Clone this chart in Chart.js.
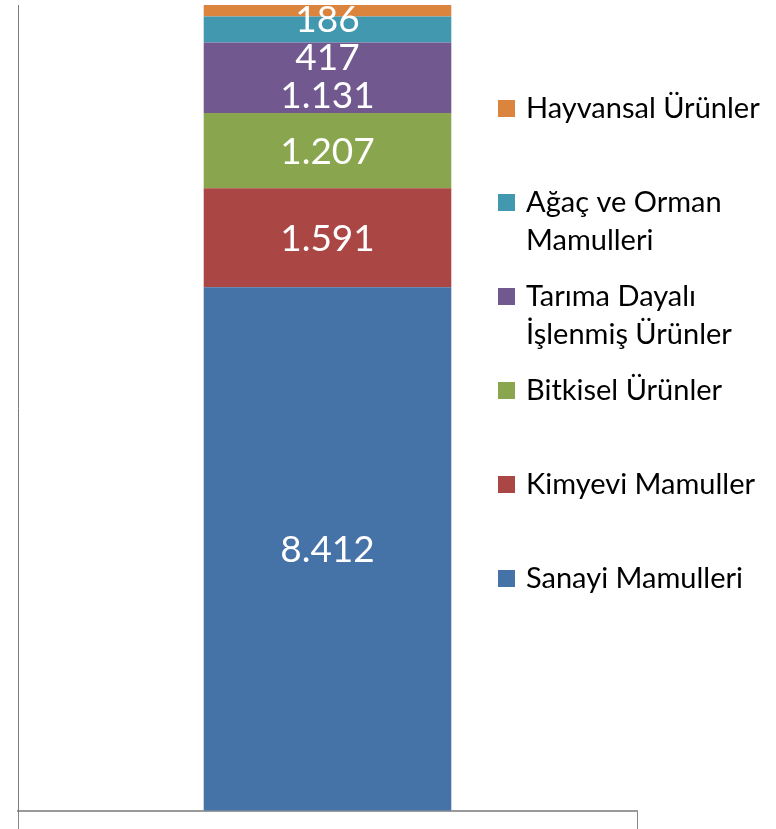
<!DOCTYPE html>
<html lang="tr">
<head>
<meta charset="utf-8">
<title>Ürün grupları</title>
<script src="https://cdn.jsdelivr.net/npm/chart.js@4/dist/chart.umd.min.js"></script>
<style>
    html, body { margin: 0; padding: 0; background: #fff; }
    #chart { display: block; }
</style>
</head>
<body>
<canvas id="chart" width="776" height="829"></canvas>
<script>
// data, bottom of the stack first
const categories = [''];
const seriesNames = ['Sanayi Mamulleri', 'Kimyevi Mamuller', 'Bitkisel Ürünler', 'Tarıma Dayalı İşlenmiş Ürünler', 'Ağaç ve Orman Mamulleri', 'Hayvansal Ürünler'];
const seriesValues = [8412, 1591, 1207, 1131, 417, 186];
const seriesColors = ['#4572A7', '#AA4643', '#89A54E', '#71588F', '#4198AF', '#DB843D'];

const total = seriesValues.reduce((a, b) => a + b, 0);

// 8412 -> "8.412"
function formatTr(n) {
    return String(n).replace(/\B(?=(\d{3})+(?!\d))/g, '.');
}

// white value labels in the middle of each segment, pushed down when they would collide
const segmentLabels = {
    id: 'segmentLabels',
    afterDatasetsDraw(chart) {
        const ctx = chart.ctx;
        const size = 37;
        const gap = 38;
        ctx.save();
        ctx.font = size + 'px Lato, "Open Sans", sans-serif';
        ctx.fillStyle = '#ffffff';
        ctx.textAlign = 'center';
        ctx.textBaseline = 'alphabetic';
        let prev = chart.chartArea.top + 14 - gap;
        for (let i = chart.data.datasets.length - 1; i >= 0; i--) {
            const bar = chart.getDatasetMeta(i).data[0];
            let y = (bar.y + bar.base) / 2;
            y = Math.max(y, prev + gap);
            prev = y;
            ctx.fillText(formatTr(chart.data.datasets[i].data[0]), bar.x, y + size * 0.36);
        }
        ctx.restore();
    }
};

// legend on the right, top item first, long names wrapped
const sideLegend = {
    id: 'sideLegend',
    afterDraw(chart) {
        const ctx = chart.ctx;
        const size = 29;
        const boxX = 498, textX = 526, firstY = 108, step = 94, lineH = 38, maxW = 248;
        ctx.save();
        ctx.font = size + 'px Lato, "Open Sans", sans-serif';
        ctx.textBaseline = 'alphabetic';
        ctx.textAlign = 'left';
        const sets = chart.data.datasets;
        for (let k = 0; k < sets.length; k++) {
            const ds = sets[sets.length - 1 - k];
            const cy = firstY + k * step;
            ctx.fillStyle = ds.backgroundColor;
            ctx.fillRect(boxX, cy - 8, 17, 17);

            // word wrap
            const words = ds.label.split(' ');
            const lines = [];
            let line = '';
            words.forEach(w => {
                const test = line ? line + ' ' + w : w;
                if (line && ctx.measureText(test).width > maxW) {
                    lines.push(line);
                    line = w;
                } else {
                    line = test;
                }
            });
            lines.push(line);

            ctx.fillStyle = '#000000';
            lines.forEach((l, j) => ctx.fillText(l, textX, cy + 10 + j * lineH));
        }
        ctx.restore();
    }
};

const ctx = document.getElementById('chart').getContext('2d');
new Chart(ctx, {
    type: 'bar',
    data: {
        labels: categories,
        datasets: seriesNames.map((name, i) => ({
            label: name,
            data: [seriesValues[i]],
            backgroundColor: seriesColors[i],
            borderWidth: 0,
            barPercentage: 0.4,
            categoryPercentage: 1
        }))
    },
    options: {
        responsive: false,
        animation: false,
        layout: { padding: { left: 18, top: 5, right: 139, bottom: 0 } },
        plugins: {
            legend: { display: false },
            tooltip: { enabled: false }
        },
        scales: {
            x: {
                stacked: true,
                offset: true,
                grid: {
                    offset: true,
                    drawOnChartArea: false,
                    drawTicks: true,
                    tickLength: 18,
                    color: '#868686',
                    lineWidth: 1
                },
                border: { display: true, color: '#9a9a9a', width: 2 },
                ticks: { display: false }
            },
            y: {
                stacked: true,
                min: 0,
                max: total,
                grid: { drawOnChartArea: false, drawTicks: false },
                border: { display: true, color: '#7a7a7a', width: 1 },
                ticks: { display: false }
            }
        }
    },
    plugins: [segmentLabels, sideLegend]
});
</script>
</body>
</html>
